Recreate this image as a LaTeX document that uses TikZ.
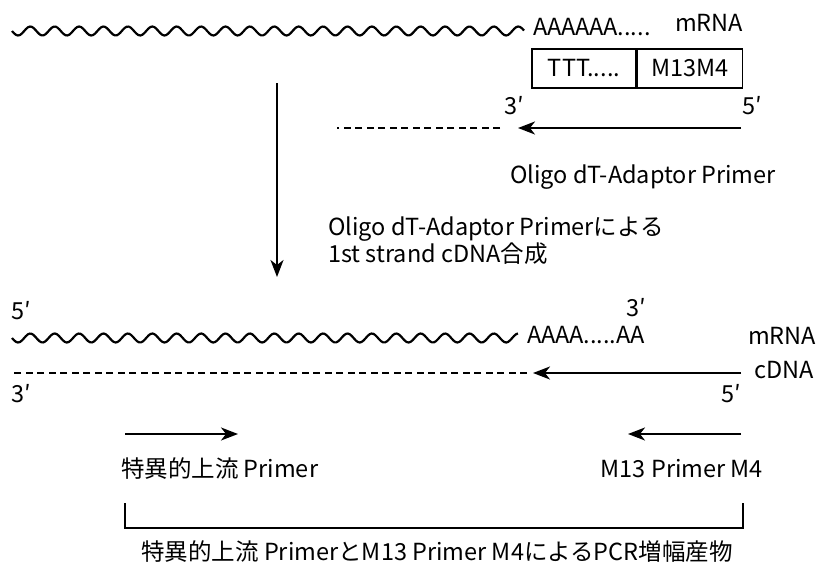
\documentclass[tikz,border=0pt]{standalone}
\usepackage{fontspec}
\setmainfont{Noto Sans CJK JP}
\usetikzlibrary{arrows.meta}
\tikzset{
	rna/.style={line width=2.2pt,line join=round},
	tip/.style={-{Stealth[length=17pt,width=13pt,inset=5pt]}},
	newdna/.style={dashed,dash pattern=on 7pt off 4.5pt},
	box/.style={draw,line width=1.2pt,minimum width=104,minimum height=39,inner sep=0pt}
}
% wavy mRNA strand: start x, end x, height
\newcommand{\rnawave}[3]{\draw[rna] plot[domain=#1:#2,samples=260,smooth] (\x,{#3+4.5*sin((\x-#1)/24.4*360)});}
\begin{document}
\begin{tikzpicture}[x=1pt,y=-1pt,line width=2pt,font=\fontsize{23.5}{27}\selectfont]
	\useasboundingbox (0,0) rectangle (819,565);
	% mRNA with the oligo dT primer
	\rnawave{12}{524}{31}
	\coordinate(m1e) at (524,31);
	\node[anchor=west,inner sep=0pt](polyA1) at (532,27){AAAAAA.....};
	\node(mrna1) at (709,23){mRNA};
	\node[box](ttt) at (584,68.5){TTT.....};
	\node[box,minimum width=105,anchor=west](m4box) at (ttt.east){M13M4};
	\node(p3a) at (514,106){3′};
	\node(p5a) at (752,106){5′};
	\coordinate(a5) at (741,128);
	\coordinate(a3) at (518,128);
	\coordinate(d1e) at (500,128);
	\coordinate(d1s) at (337,128);
	\draw[tip](a5)--(a3);
	\draw[newdna](d1e)--(d1s);
	\node(oligo) at (643,177){Oligo dT-Adaptor Primer};
	
	% first strand synthesis
	\coordinate(v1) at (277,83);
	\coordinate(v2) at (277,277);
	\draw[tip](v1)--(v2);
	\node[anchor=west,align=left](step) at (324,241){Oligo dT-Adaptor Primerによる\\1st strand cDNA合成};
	
	% mRNA / cDNA hybrid
	\rnawave{12}{518}{338}
	\coordinate(m2e) at (518,338);
	\node(p5b) at (21,311){5′};
	\node[anchor=west,inner sep=0pt](polyA2) at (526,335){AAAA.....AA};
	\node(p3b) at (636,308){3′};
	\node(mrna2) at (782,336){mRNA};
	\coordinate(c5) at (741,373);
	\coordinate(c3) at (533,373);
	\coordinate(d2e) at (527,373);
	\coordinate(d2s) at (12,373);
	\draw[tip](c5)--(c3);
	\draw[newdna](d2e)--(d2s);
	\node(cdna) at (784,370){cDNA};
	\node(p3c) at (21,394){3′};
	\node(p5c) at (731,394){5′};
	
	% PCR primers and product
	\coordinate(f1) at (125,434);
	\coordinate(f2) at (238,434);
	\coordinate(r1) at (741,434);
	\coordinate(r2) at (628,434);
	\draw[tip](f1)--(f2);
	\draw[tip](r1)--(r2);
	\node[anchor=west,inner sep=0pt](fwd) at (120,469){特異的上流 Primer};
	\node[anchor=east,inner sep=0pt](rev) at (764,469){M13 Primer M4};
	\draw[line width=1.6pt](125,503)coordinate(b1)--(125,528)--(743,528)--(743,503)coordinate(b2);
	\node(prod) at (437,552){特異的上流 PrimerとM13 Primer M4によるPCR増幅産物};
\end{tikzpicture}
\end{document}
